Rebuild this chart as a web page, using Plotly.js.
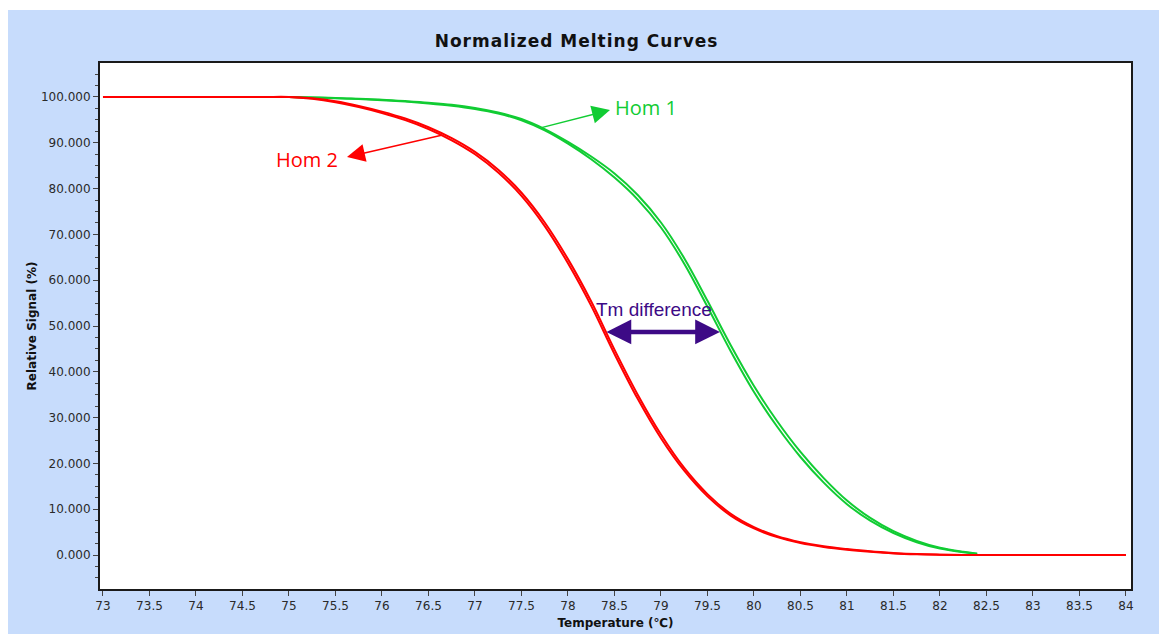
<!DOCTYPE html>
<html>
<head>
<meta charset="utf-8">
<script src="https://cdn.plot.ly/plotly-3.0.1.min.js"></script>
<style>
  html, body { margin: 0; padding: 0; background: #ffffff; }
  #chart { position: absolute; left: 8px; top: 10px; width: 1151px; height: 624px; }
  #chart .gtitle { letter-spacing: 1px; }
</style>
</head>
<body>
<div id="chart"></div>
<script>
// ---- Data ----
const hom2Temps = [73, 73.25, 73.5, 73.75, 74, 74.25, 74.5, 74.75, 75, 75.25, 75.5, 75.75, 76, 76.25, 76.5, 76.75,
  77, 77.25, 77.5, 77.75, 78, 78.25, 78.5, 78.75, 79, 79.25, 79.5, 79.75, 80, 80.25, 80.5, 80.75,
  81, 81.25, 81.5, 81.75, 82, 82.25, 82.5, 82.75, 83, 83.25, 83.5, 83.75, 84];
const hom2RepA = [100, 100, 100, 100, 100, 100, 100, 100, 100, 99.7, 99.05, 98.05, 96.8, 95.3, 93.4, 91.0,
  88.0, 84.1, 79.1, 72.6, 64.6, 55.35, 44.85, 35.0, 26.3, 19.0, 13.3, 9.0, 6.1, 4.1, 2.8, 1.9,
  1.3, 0.8, 0.45, 0.2, 0.08, 0, 0, 0, 0, 0, 0, 0, 0];
const hom2RepB = [100, 100, 100, 100, 100, 100, 100, 100, 100, 99.6, 98.85, 97.8, 96.5, 94.95, 93.0, 90.55,
  87.5, 83.5, 78.4, 71.8, 63.7, 54.4, 43.9, 34.1, 25.5, 18.4, 12.8, 8.6, 5.8, 3.9, 2.6, 1.75,
  1.15, 0.7, 0.35, 0.15, 0.05, 0, 0, 0, 0, 0, 0, 0, 0];

const hom1Temps = [75, 75.25, 75.5, 75.75, 76, 76.25, 76.5, 76.75, 77, 77.25, 77.5, 77.75, 78, 78.25, 78.5, 78.75,
  79, 79.25, 79.5, 79.75, 80, 80.25, 80.5, 80.75, 81, 81.25, 81.5, 81.75, 82, 82.25, 82.4];
const hom1RepA = [100, 99.9, 99.75, 99.55, 99.3, 99.0, 98.6, 98.1, 97.4, 96.4, 94.9, 92.7, 89.8, 86.4, 82.4, 77.6,
  71.5, 63.6, 54.2, 44.5, 35.6, 28.0, 21.4, 15.8, 11.1, 7.5, 4.8, 2.8, 1.4, 0.6, 0.3];
const hom1RepB = [100, 99.9, 99.8, 99.6, 99.4, 99.1, 98.75, 98.3, 97.6, 96.6, 95.2, 93.0, 90.2, 87.0, 83.3, 78.6,
  72.6, 64.8, 55.5, 45.8, 36.9, 29.2, 22.5, 16.8, 11.9, 8.1, 5.2, 3.1, 1.6, 0.7, 0.3];

const xTickVals = [73, 73.5, 74, 74.5, 75, 75.5, 76, 76.5, 77, 77.5, 78, 78.5, 79, 79.5, 80, 80.5, 81, 81.5, 82, 82.5, 83, 83.5, 84];
const yTickVals = [0, 10, 20, 30, 40, 50, 60, 70, 80, 90, 100];

// ---- Styles ----
const RED = '#ff0000';
const GREEN = '#11cc33';
const PURPLE = '#3d0a86';
const FONT = 'DejaVu Sans, Verdana, sans-serif';

const traces = [
  {x: hom1Temps, y: hom1RepA, mode: 'lines', line: {color: GREEN, width: 2, shape: 'spline'}, name: 'Hom 1'},
  {x: hom1Temps, y: hom1RepB, mode: 'lines', line: {color: GREEN, width: 2, shape: 'spline'}, name: 'Hom 1'},
  {x: hom2Temps, y: hom2RepA, mode: 'lines', line: {color: RED, width: 2, shape: 'spline'}, name: 'Hom 2'},
  {x: hom2Temps, y: hom2RepB, mode: 'lines', line: {color: RED, width: 2, shape: 'spline'}, name: 'Hom 2'}
];

const layout = {
  width: 1151, height: 624,
  paper_bgcolor: '#c7dcfc',
  plot_bgcolor: '#ffffff',
  margin: {l: 92, r: 28, t: 53, b: 45, pad: 0},
  showlegend: false,
  title: {
    text: 'Normalized Melting Curves',
    font: {family: FONT, size: 17, color: '#111111', weight: 'bold'},
    xref: 'container', x: 0.494, xanchor: 'center',
    yref: 'container', y: 0.950, yanchor: 'middle'
  },
  xaxis: {
    range: [72.968, 84.054],
    tickvals: xTickVals,
    ticktext: xTickVals.map(v => String(v)),
    ticks: 'outside', ticklen: 5, tickwidth: 1, tickcolor: '#444',
    showgrid: false, zeroline: false,
    showline: true, linecolor: '#1a1a1a', linewidth: 2, mirror: true,
    tickfont: {family: FONT, size: 12, color: '#2a2a2a'},
    title: {text: 'Temperature (℃)', font: {family: FONT, size: 12, color: '#111111', weight: 'bold'}, standoff: 6}
  },
  yaxis: {
    range: [-7.42, 107.42],
    tickvals: yTickVals,
    tickformat: '.3f',
    ticks: 'outside', ticklen: 5, tickwidth: 1, tickcolor: '#444',
    minor: {dtick: 2.5, ticks: 'outside', ticklen: 3, tickcolor: '#444', showgrid: false},
    showgrid: false, zeroline: false,
    showline: true, linecolor: '#1a1a1a', linewidth: 2, mirror: true,
    tickfont: {family: FONT, size: 12, color: '#2a2a2a'},
    title: {text: 'Relative Signal (%)', font: {family: FONT, size: 12, color: '#111111', weight: 'bold'}, standoff: 2}
  },
  annotations: [
    {x: 78.839, y: 97.6, xref: 'x', yref: 'y', text: 'Hom 1', showarrow: false,
     font: {family: 'Open Sans, sans-serif', size: 20, color: GREEN}},
    {x: 78.452, y: 97.16, ax: 77.699, ay: 93.23, xref: 'x', yref: 'y', axref: 'x', ayref: 'y',
     text: '', showarrow: true, arrowhead: 2, arrowsize: 2.4, arrowwidth: 1.5, arrowcolor: GREEN, standoff: 0},
    {x: 75.199, y: 86.35, xref: 'x', yref: 'y', text: 'Hom 2', showarrow: false,
     font: {family: 'Open Sans, sans-serif', size: 20, color: RED}},
    {x: 75.624, y: 86.9, ax: 76.656, ay: 91.7, xref: 'x', yref: 'y', axref: 'x', ayref: 'y',
     text: '', showarrow: true, arrowhead: 2, arrowsize: 2.4, arrowwidth: 1.5, arrowcolor: RED, standoff: 0},
    {x: 78.930, y: 53.7, xref: 'x', yref: 'y', text: 'Tm difference', showarrow: false,
     font: {family: 'Liberation Sans, Arial, sans-serif', size: 19, color: PURPLE}},
    {x: 79.634, y: 48.7, ax: 78.398, ay: 48.7, xref: 'x', yref: 'y', axref: 'x', ayref: 'y',
     text: '', showarrow: true, arrowside: 'end+start',
     arrowhead: 2, startarrowhead: 2, arrowsize: 1.1, startarrowsize: 1.1, arrowwidth: 4.5,
     arrowcolor: PURPLE, standoff: 0, startstandoff: 0}
  ]
};

Plotly.newPlot('chart', traces, layout, {displayModeBar: false, staticPlot: true});
</script>
</body>
</html>
